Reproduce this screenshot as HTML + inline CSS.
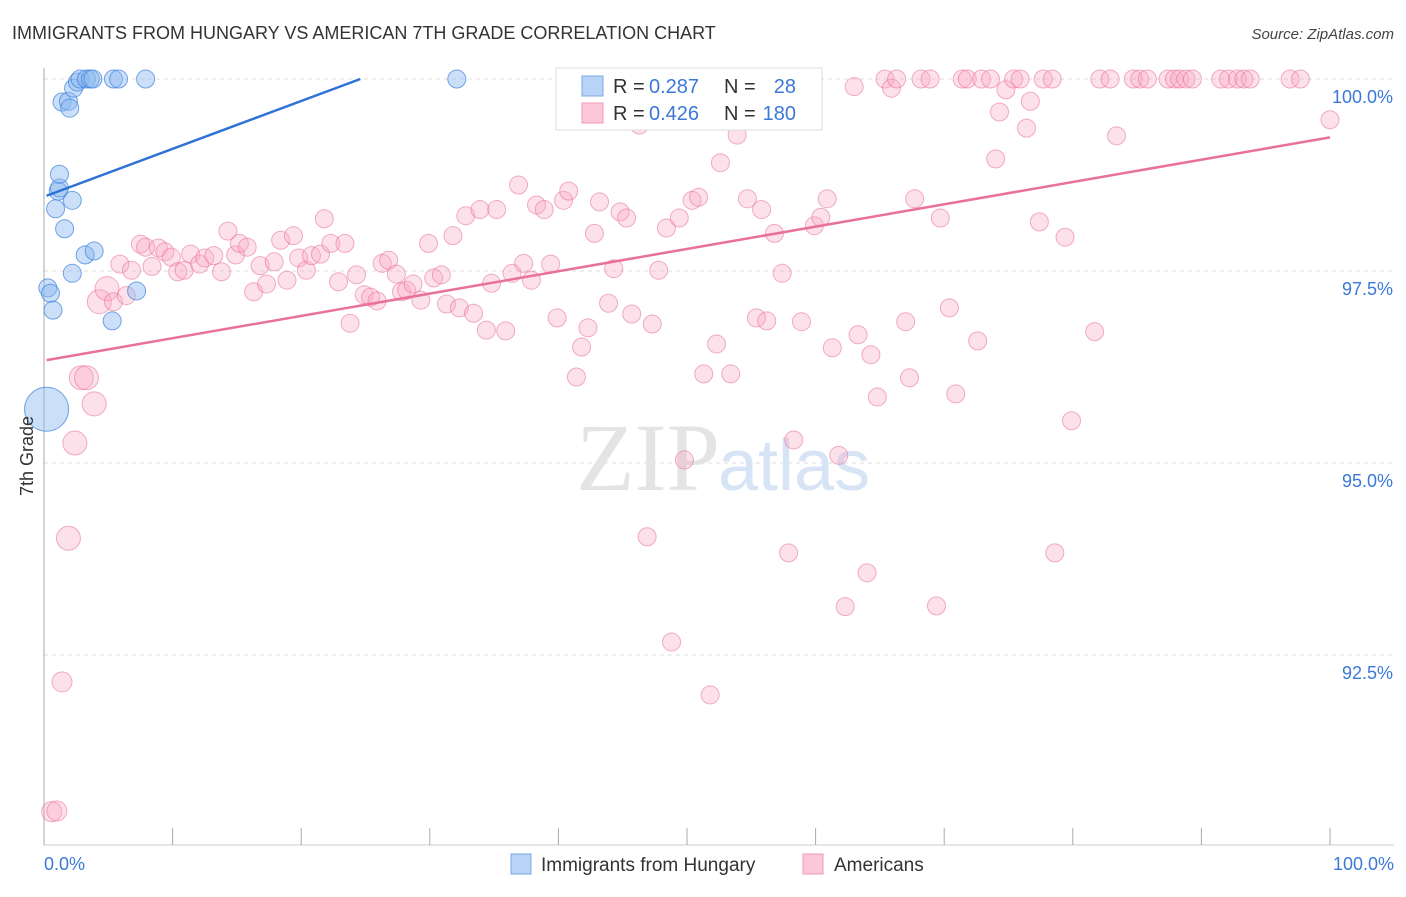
<!DOCTYPE html>
<html><head><meta charset="utf-8"><style>
html,body{margin:0;padding:0;background:#fff;}
body{width:1406px;height:892px;overflow:hidden;font-family:"Liberation Sans",sans-serif;}
</style></head><body>
<svg width="1406" height="892" xmlns="http://www.w3.org/2000/svg" font-family="Liberation Sans, sans-serif">
<text x="12" y="39" font-size="18" fill="#333">IMMIGRANTS FROM HUNGARY VS AMERICAN 7TH GRADE CORRELATION CHART</text>
<text x="1394" y="39" font-size="15" fill="#444" text-anchor="end" font-style="italic">Source: ZipAtlas.com</text>
<g id="grid"></g>
<text x="720" y="490" font-size="96" text-anchor="end" fill="#e4e4e4" font-family="Liberation Serif, serif">ZIP</text>
<text x="718" y="490" font-size="72" fill="#d6e4f5">atlas</text>
<g id="axes"></g>
<g id="points"></g>
<g id="trends"></g>
<text transform="translate(33,456) rotate(-90)" font-size="18" fill="#333" text-anchor="middle">7th Grade</text>
<text x="44" y="870" font-size="18" fill="#3b78d8">0.0%</text>
<text x="1394" y="870" font-size="18" fill="#3b78d8" text-anchor="end">100.0%</text>
<g>
<rect x="556" y="68" width="266" height="62" fill="#fff" stroke="#ddd"/>
<rect x="582" y="76" width="21" height="20" fill="#b8d3f5" stroke="#7aaae8"/>
<rect x="582" y="103" width="21" height="20" fill="#fcc8d8" stroke="#f09ab6"/>
<text x="613" y="93" font-size="20" fill="#333">R =</text><text x="649" y="93" font-size="20" fill="#3b78d8">0.287</text>
<text x="724" y="93" font-size="20" fill="#333">N =</text><text x="796" y="93" font-size="20" fill="#3b78d8" text-anchor="end">28</text>
<text x="613" y="120" font-size="20" fill="#333">R =</text><text x="649" y="120" font-size="20" fill="#3b78d8">0.426</text>
<text x="724" y="120" font-size="20" fill="#333">N =</text><text x="796" y="120" font-size="20" fill="#3b78d8" text-anchor="end">180</text>
</g>
<g>
<rect x="511" y="854" width="20" height="20" fill="#b8d3f5" stroke="#7aaae8"/>
<text x="541" y="871" font-size="19" fill="#333">Immigrants from Hungary</text></g>
<g>
<rect x="803" y="854" width="20" height="20" fill="#fcc8d8" stroke="#f09ab6"/>
<text x="834" y="871" font-size="19" fill="#333">Americans</text></g>
</svg>
<script>
const yTicks=[100,97.5,95,92.5];
const yTickLabels=["100.0%","97.5%","95.0%","92.5%"];
const blueX=[0.2,0.3,0.5,0.7,0.9,1.1,1.2,1.2,1.6,2.2,2.2,1.4,1.9,2.0,2.3,2.6,2.8,3.3,3.6,3.8,3.2,3.9,5.3,7.2,5.4,5.8,7.9,32.1];
const blueY=[95.70,97.28,97.21,96.99,98.31,98.54,98.58,98.76,98.05,98.42,97.47,99.70,99.71,99.62,99.88,99.96,100,100,100,100,97.71,97.76,96.85,97.24,100,100,100,100];
const pinkX=[0.6,1.0,1.4,1.9,2.4,2.9,3.3,3.9,4.3,4.9,5.4,6.4,5.9,6.8,7.5,7.9,8.4,8.9,9.4,9.9,10.4,10.9,11.4,12.1,12.5,13.2,13.8,14.3,14.9,15.2,15.8,16.3,16.8,17.3,17.9,18.4,18.9,19.4,19.8,20.4,20.8,21.5,21.8,22.3,22.9,23.4,23.8,24.3,24.9,25.4,25.9,26.3,26.8,27.4,27.8,28.2,28.7,29.3,29.9,30.3,30.9,31.3,31.8,32.3,32.8,33.4,33.9,34.4,34.8,35.2,35.9,36.4,36.9,37.3,37.9,38.3,38.9,39.4,39.9,40.4,40.8,41.4,41.8,42.3,42.8,43.2,43.9,44.3,44.8,45.3,45.7,46.3,46.9,47.3,47.8,48.4,48.8,49.4,49.8,50.4,50.9,51.3,51.8,52.3,52.6,53.4,53.9,54.2,54.7,55.4,55.8,56.2,56.8,57.4,57.9,58.3,58.9,59.3,59.9,60.4,60.9,61.3,61.8,62.3,63.0,63.3,64.0,64.3,64.8,65.4,65.9,66.3,67.0,67.3,67.7,68.2,68.9,69.4,69.7,70.4,70.9,71.4,71.8,72.6,72.9,73.6,74.0,74.3,74.8,75.4,75.9,76.4,76.7,77.4,77.7,78.4,78.6,79.4,79.9,81.7,82.1,82.9,83.4,84.7,85.2,85.8,87.4,87.9,88.3,88.8,89.3,91.5,92.1,92.8,93.3,93.8,96.9,97.7,100];
const pinkY=[90.46,90.47,92.15,94.02,95.26,96.11,96.11,95.77,97.10,97.27,97.10,97.18,97.59,97.51,97.85,97.81,97.56,97.80,97.75,97.68,97.49,97.51,97.72,97.59,97.67,97.70,97.49,98.02,97.71,97.86,97.81,97.23,97.57,97.33,97.62,97.90,97.38,97.96,97.67,97.51,97.70,97.72,98.18,97.86,97.36,97.86,96.82,97.45,97.19,97.16,97.11,97.60,97.64,97.46,97.23,97.25,97.33,97.12,97.86,97.41,97.45,97.07,97.96,97.02,98.22,96.95,98.30,96.73,97.34,98.30,96.72,97.47,98.62,97.60,97.38,98.36,98.30,97.59,96.89,98.42,98.54,96.12,96.51,96.76,97.99,98.40,97.08,97.53,98.27,98.19,96.94,99.40,94.04,96.81,97.51,98.06,92.67,98.19,95.04,98.42,98.46,96.16,91.98,96.55,98.91,96.16,99.27,99.47,98.44,96.89,98.30,96.85,97.99,97.47,93.83,95.30,96.84,100,98.09,98.20,98.44,96.50,95.10,93.13,99.90,96.67,93.57,96.41,95.86,100,99.88,100,96.84,96.11,98.44,100,100,93.14,98.19,97.02,95.90,100,100,96.59,100,100,98.96,99.57,99.86,100,100,99.36,99.71,98.14,100,100,93.83,97.94,95.55,96.71,100,100,99.26,100,100,100,100,100,100,100,100,100,100,100,100,100,100,100,99.47];
const blueTrend=[0.2,98.48,24.6,100];
const pinkTrend=[0.2,96.34,100,99.24];
const NS='http://www.w3.org/2000/svg';
const sx=v=>44+v*12.86;
const sy=v=>79+(100-v)*76.8;
function mk(t,a,p){const e=document.createElementNS(NS,t);for(const k in a)e.setAttribute(k,a[k]);p.appendChild(e);return e;}
const grid=document.getElementById('grid'),axes=document.getElementById('axes'),pts=document.getElementById('points'),tr=document.getElementById('trends');
yTicks.forEach((v,i)=>{
  const l=mk('line',{x1:44,x2:1394,y1:sy(v),y2:sy(v),stroke:'#ddd','stroke-dasharray':'4,4'},grid);
  
  
  const t=mk('text',{x:1393,y:sy(v)+24,'font-size':18,fill:'#3b78d8','text-anchor':'end'},grid);
  t.textContent=yTickLabels[i];
  
  
});
const ax=mk('line',{x1:44,x2:44,y1:68,y2:845,stroke:'#aaa'},axes);


const bx=mk('line',{x1:44,x2:1394,y1:845,y2:845,stroke:'#ccc'},axes);


for(let i=0;i<=10;i++){
  const t=mk('line',{x1:sx(i*10),x2:sx(i*10),y1:828,y2:845,stroke:'#aaa'},axes);
  
  
}
pinkX.forEach((x,i)=>{
  const r=x<5&&pinkY[i]>94&&pinkY[i]<97.5?12:(x<5?10:9);
  const c=mk('circle',{cx:sx(x),cy:sy(pinkY[i]),r:r,fill:'rgba(248,170,195,0.35)',stroke:'rgba(232,110,150,0.55)','stroke-width':1},pts);
  
  
});
blueX.forEach((x,i)=>{
  const r=i===0?22:9;
  const c=mk('circle',{cx:sx(x),cy:sy(blueY[i]),r:r,fill:'rgba(140,185,240,0.45)',stroke:'rgba(60,130,220,0.7)','stroke-width':1},pts);
  
  
});
const bl=mk('line',{x1:sx(blueTrend[0]),y1:sy(blueTrend[1]),x2:sx(blueTrend[2]),y2:sy(blueTrend[3]),stroke:'#2f72d6','stroke-width':2.5},tr);


const pl=mk('line',{x1:sx(pinkTrend[0]),y1:sy(pinkTrend[1]),x2:sx(pinkTrend[2]),y2:sy(pinkTrend[3]),stroke:'#e8709a','stroke-width':2.5},tr);


</script>
</body></html>
